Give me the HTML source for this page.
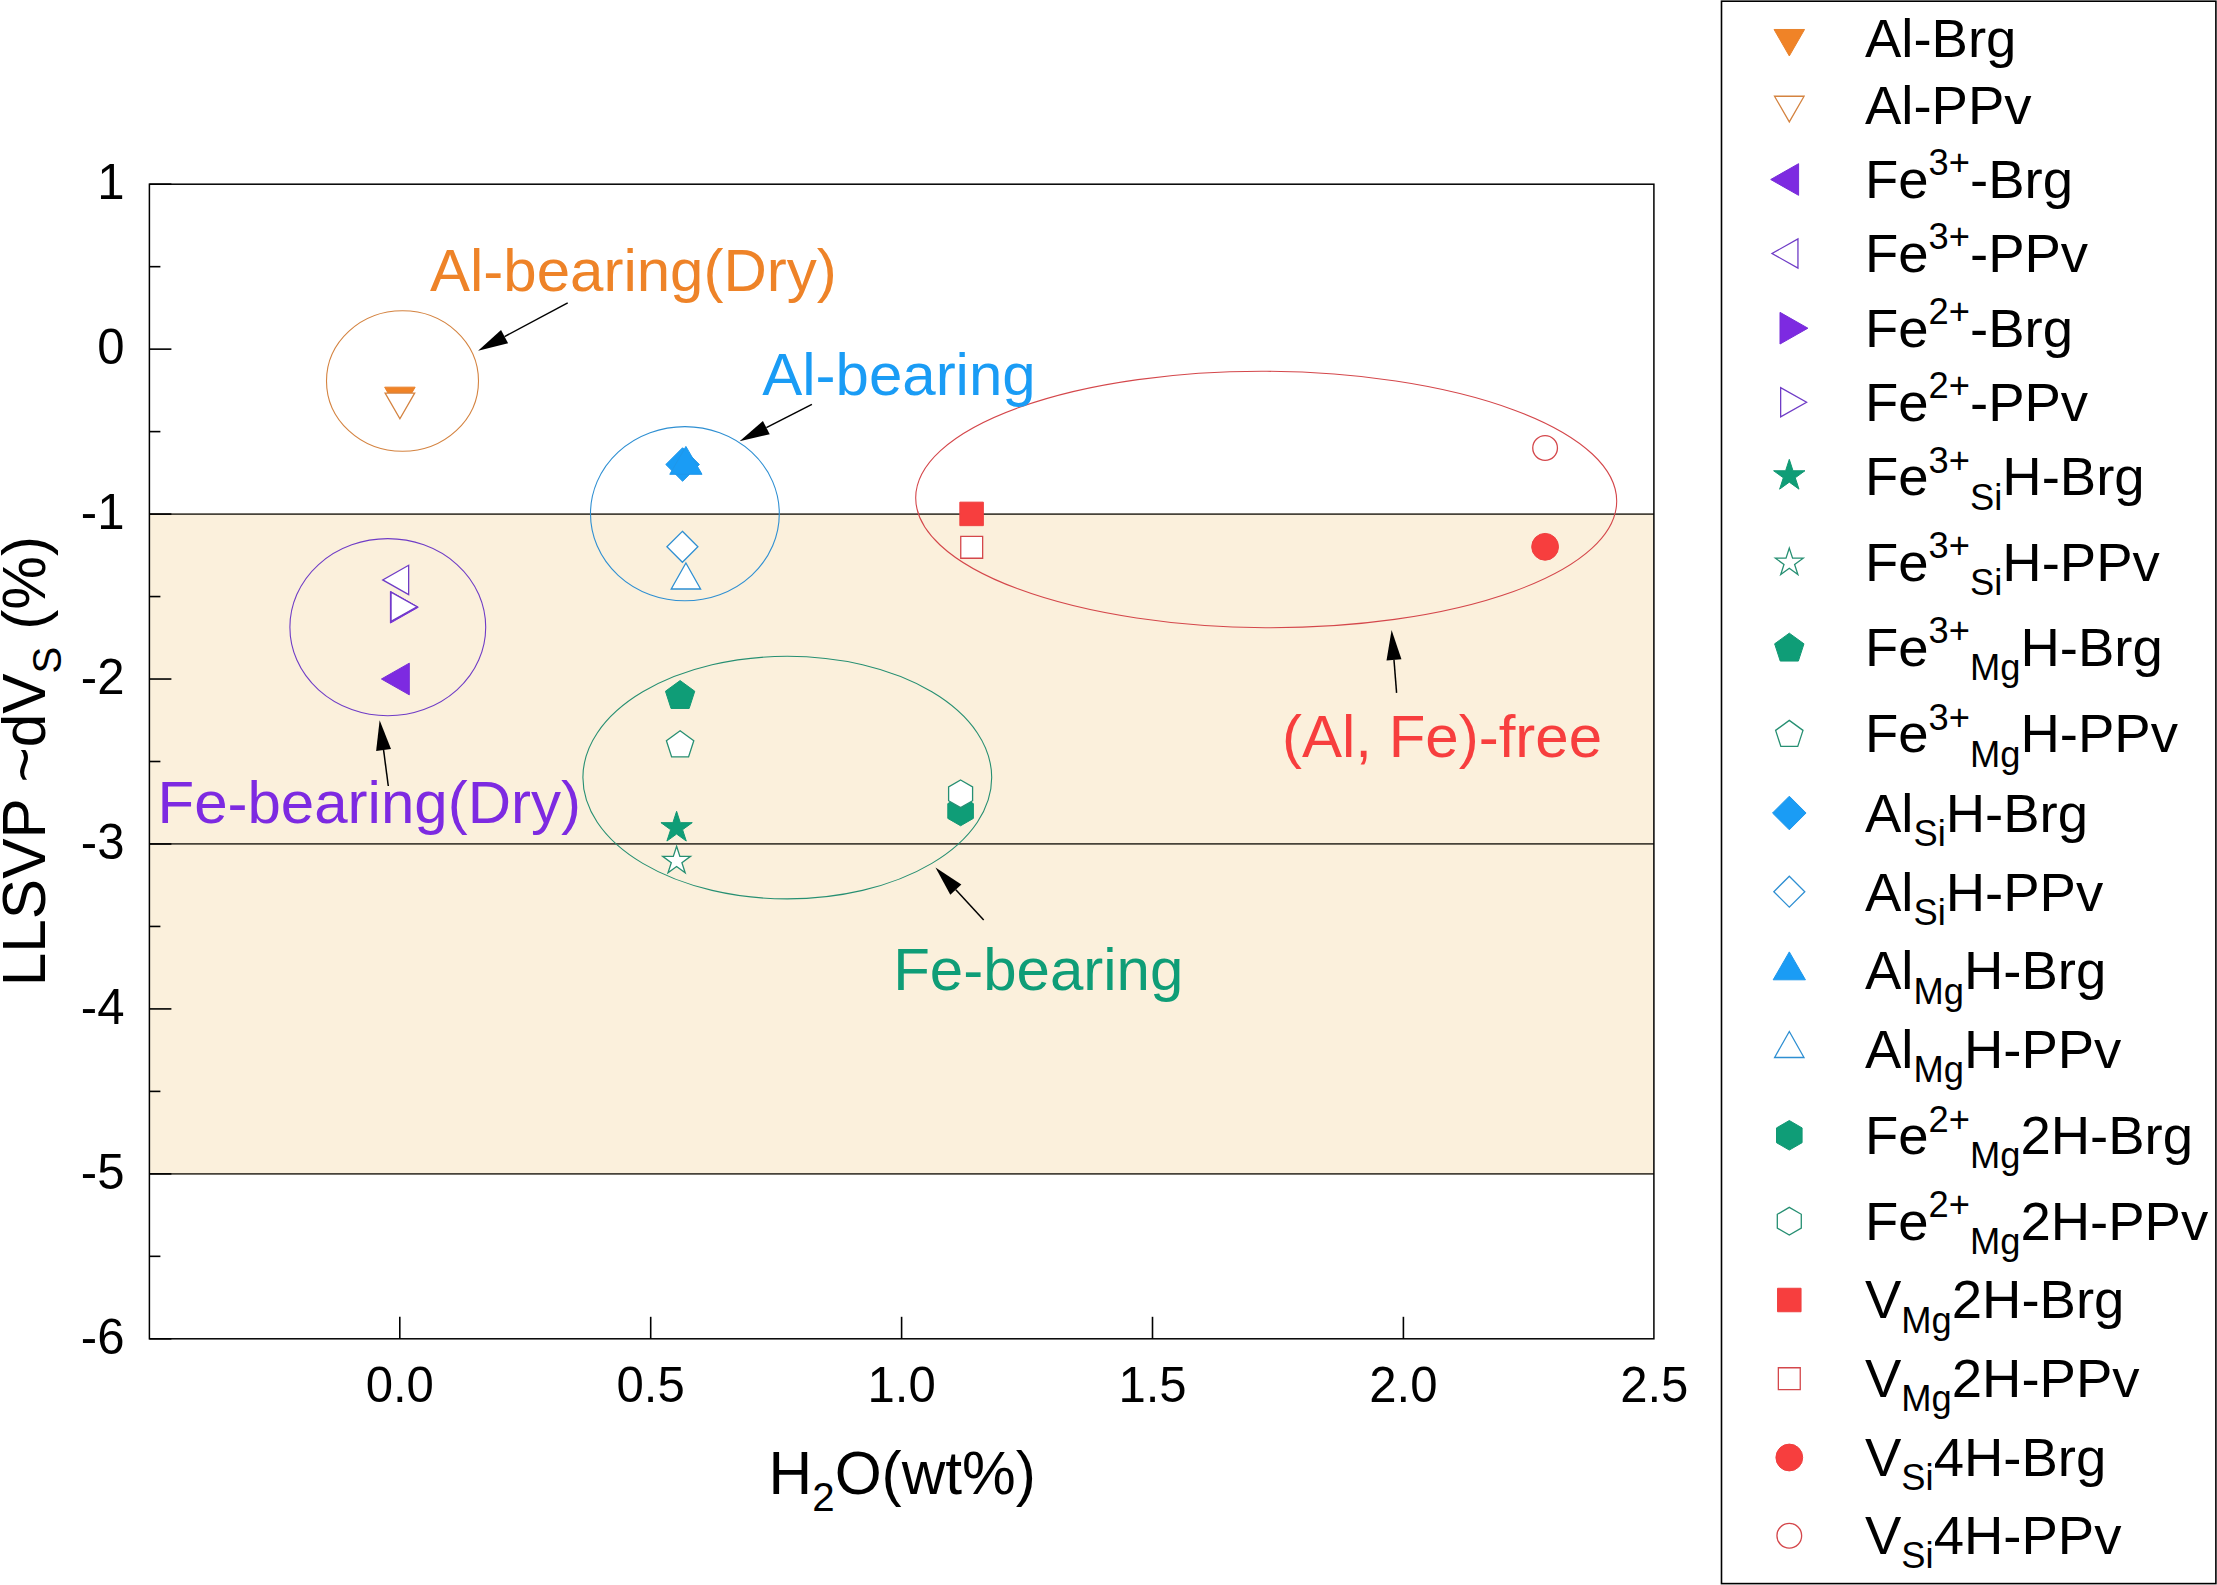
<!DOCTYPE html>
<html lang="en"><head><meta charset="utf-8"><title>LLSVP dVs vs H2O</title>
<style>html,body{margin:0;padding:0;background:#fff}svg{display:block}text{font-family:"Liberation Sans", sans-serif;fill:#000}</style></head><body>
<svg width="2217" height="1585" viewBox="0 0 2217 1585">
<rect x="0" y="0" width="2217" height="1585" fill="#fff"/>
<rect x="149.4" y="514.09" width="1504.5" height="659.77" fill="#FBF0DC"/>
<line x1="149.4" y1="514.09" x2="1653.9" y2="514.09" stroke="#47433a" stroke-width="1.8"/>
<line x1="149.4" y1="843.97" x2="1653.9" y2="843.97" stroke="#47433a" stroke-width="1.8"/>
<line x1="149.4" y1="1173.86" x2="1653.9" y2="1173.86" stroke="#47433a" stroke-width="1.8"/>
<ellipse cx="402.5" cy="381" rx="76" ry="70.3" fill="none" stroke="#D48340" stroke-width="1.1"/>
<ellipse cx="387.8" cy="627.2" rx="97.9" ry="88.6" fill="none" stroke="#6F3CC6" stroke-width="1.1"/>
<ellipse cx="684.9" cy="513.7" rx="94.4" ry="87.1" fill="none" stroke="#2E8FD2" stroke-width="1.1"/>
<ellipse cx="787.3" cy="777.6" rx="204.4" ry="121.3" fill="none" stroke="#268F72" stroke-width="1.1"/>
<ellipse cx="1266.2" cy="499.5" rx="350.5" ry="128.2" fill="none" stroke="#D4474B" stroke-width="1.1" transform="rotate(0.3 1266.2 499.5)"/>
<rect x="149.4" y="184.2" width="1504.5" height="1154.6" fill="none" stroke="#000" stroke-width="1.5"/>
<line x1="149.4" y1="184.2" x2="171.4" y2="184.2" stroke="#000" stroke-width="1.6"/>
<line x1="149.4" y1="266.67" x2="160.4" y2="266.67" stroke="#000" stroke-width="1.6"/>
<line x1="149.4" y1="349.14" x2="171.4" y2="349.14" stroke="#000" stroke-width="1.6"/>
<line x1="149.4" y1="431.61" x2="160.4" y2="431.61" stroke="#000" stroke-width="1.6"/>
<line x1="149.4" y1="514.09" x2="171.4" y2="514.09" stroke="#000" stroke-width="1.6"/>
<line x1="149.4" y1="596.56" x2="160.4" y2="596.56" stroke="#000" stroke-width="1.6"/>
<line x1="149.4" y1="679.03" x2="171.4" y2="679.03" stroke="#000" stroke-width="1.6"/>
<line x1="149.4" y1="761.5" x2="160.4" y2="761.5" stroke="#000" stroke-width="1.6"/>
<line x1="149.4" y1="843.97" x2="171.4" y2="843.97" stroke="#000" stroke-width="1.6"/>
<line x1="149.4" y1="926.44" x2="160.4" y2="926.44" stroke="#000" stroke-width="1.6"/>
<line x1="149.4" y1="1008.91" x2="171.4" y2="1008.91" stroke="#000" stroke-width="1.6"/>
<line x1="149.4" y1="1091.39" x2="160.4" y2="1091.39" stroke="#000" stroke-width="1.6"/>
<line x1="149.4" y1="1173.86" x2="171.4" y2="1173.86" stroke="#000" stroke-width="1.6"/>
<line x1="149.4" y1="1256.33" x2="160.4" y2="1256.33" stroke="#000" stroke-width="1.6"/>
<line x1="149.4" y1="1338.8" x2="171.4" y2="1338.8" stroke="#000" stroke-width="1.6"/>
<line x1="399.8" y1="1338.8" x2="399.8" y2="1316.8" stroke="#000" stroke-width="1.6"/>
<line x1="650.7" y1="1338.8" x2="650.7" y2="1316.8" stroke="#000" stroke-width="1.6"/>
<line x1="901.6" y1="1338.8" x2="901.6" y2="1316.8" stroke="#000" stroke-width="1.6"/>
<line x1="1152.5" y1="1338.8" x2="1152.5" y2="1316.8" stroke="#000" stroke-width="1.6"/>
<line x1="1403.4" y1="1338.8" x2="1403.4" y2="1316.8" stroke="#000" stroke-width="1.6"/>
<text x="124.5" y="199.3" font-size="49.1" text-anchor="end">1</text>
<text x="124.5" y="364.24" font-size="49.1" text-anchor="end">0</text>
<text x="124.5" y="529.19" font-size="49.1" text-anchor="end">-1</text>
<text x="124.5" y="694.13" font-size="49.1" text-anchor="end">-2</text>
<text x="124.5" y="859.07" font-size="49.1" text-anchor="end">-3</text>
<text x="124.5" y="1024.01" font-size="49.1" text-anchor="end">-4</text>
<text x="124.5" y="1188.96" font-size="49.1" text-anchor="end">-5</text>
<text x="124.5" y="1353.9" font-size="49.1" text-anchor="end">-6</text>
<text x="399.8" y="1401.8" font-size="49.1" text-anchor="middle">0.0</text>
<text x="650.7" y="1401.8" font-size="49.1" text-anchor="middle">0.5</text>
<text x="901.6" y="1401.8" font-size="49.1" text-anchor="middle">1.0</text>
<text x="1152.5" y="1401.8" font-size="49.1" text-anchor="middle">1.5</text>
<text x="1403.4" y="1401.8" font-size="49.1" text-anchor="middle">2.0</text>
<text x="1654.3" y="1401.8" font-size="49.1" text-anchor="middle">2.5</text>
<text x="768.6" y="1494" font-size="60.4">H<tspan font-size="40.3" dy="16.5">2</tspan><tspan dy="-16.5">O(wt%)</tspan></text>
<text transform="translate(44.8,986.3) rotate(-90)" font-size="60.4">LLSVP ~dV<tspan font-size="40.3" dy="16.4">S</tspan><tspan dy="-16.4"> (%)</tspan></text>
<polygon points="384.66,387.17 415.14,387.17 399.9,413.66" fill="#F08327" stroke="#E8822C" stroke-width="1" stroke-linejoin="miter" stroke-miterlimit="10"/>
<polygon points="385.12,393.05 414.68,393.05 399.9,418.7" fill="#FFFFFF" stroke="#D48340" stroke-width="1.3" stroke-linejoin="miter" stroke-miterlimit="10"/>
<polygon points="409.3,663.16 409.3,694.84 381.41,679" fill="#7D2AE1" stroke="#772DD8" stroke-width="1" stroke-linejoin="miter" stroke-miterlimit="10"/>
<polygon points="408.65,565.26 408.65,594.54 382.72,579.9" fill="#FFFFFF" stroke="#6F3CC6" stroke-width="1.3" stroke-linejoin="miter" stroke-miterlimit="10"/>
<polygon points="390.4,591.41 390.4,623.09 418.29,607.25" fill="#7D2AE1" stroke="#772DD8" stroke-width="1" stroke-linejoin="miter" stroke-miterlimit="10"/>
<polygon points="391.05,592.06 391.05,621.34 416.98,606.7" fill="#FFFFFF" stroke="#6F3CC6" stroke-width="1.3" stroke-linejoin="miter" stroke-miterlimit="10"/>
<polygon points="676.6,811.27 680.3,822.65 692.26,822.65 682.58,829.68 686.28,841.06 676.6,834.03 666.92,841.06 670.62,829.68 660.94,822.65 672.9,822.65" fill="#0F9D77" stroke="#129873" stroke-width="1" stroke-linejoin="miter" stroke-miterlimit="10"/>
<polygon points="676.6,846.3 679.88,856.4 690.5,856.4 681.91,862.64 685.19,872.74 676.6,866.5 668.01,872.74 671.29,862.64 662.7,856.4 673.32,856.4" fill="#FFFFFF" stroke="#268F72" stroke-width="1.3" stroke-linejoin="miter" stroke-miterlimit="10"/>
<polygon points="680.1,680.57 694.76,691.22 689.16,708.46 671.04,708.46 665.44,691.22" fill="#0F9D77" stroke="#129873" stroke-width="1" stroke-linejoin="miter" stroke-miterlimit="10"/>
<polygon points="680.1,730.8 693.79,740.75 688.56,756.84 671.64,756.84 666.41,740.75" fill="#FFFFFF" stroke="#268F72" stroke-width="1.3" stroke-linejoin="miter" stroke-miterlimit="10"/>
<polygon points="682.6,447.71 699.39,464.5 682.6,481.29 665.81,464.5" fill="#1A9CF5" stroke="#1F97EA" stroke-width="1" stroke-linejoin="miter" stroke-miterlimit="10"/>
<polygon points="682.4,531.32 697.88,546.8 682.4,562.28 666.92,546.8" fill="#FFFFFF" stroke="#2E8FD2" stroke-width="1.3" stroke-linejoin="miter" stroke-miterlimit="10"/>
<polygon points="669.77,474.3 702.03,474.3 685.9,446.4" fill="#1A9CF5" stroke="#1F97EA" stroke-width="1" stroke-linejoin="miter" stroke-miterlimit="10"/>
<polygon points="671.21,588.98 700.59,588.98 685.9,562.96" fill="#FFFFFF" stroke="#2E8FD2" stroke-width="1.3" stroke-linejoin="miter" stroke-miterlimit="10"/>
<polygon points="960.6,796.23 973.39,803.61 973.39,818.39 960.6,825.77 947.81,818.39 947.81,803.61" fill="#0F9D77" stroke="#129873" stroke-width="1" stroke-linejoin="miter" stroke-miterlimit="10"/>
<polygon points="960.6,779.95 972.59,786.88 972.59,800.72 960.6,807.65 948.61,800.72 948.61,786.88" fill="#FFFFFF" stroke="#268F72" stroke-width="1.3" stroke-linejoin="miter" stroke-miterlimit="10"/>
<polygon points="959.85,502.15 983.35,502.15 983.35,525.65 959.85,525.65" fill="#F73E3E" stroke="#EE4040" stroke-width="1" stroke-linejoin="miter" stroke-miterlimit="10"/>
<polygon points="960.75,536.35 982.65,536.35 982.65,558.25 960.75,558.25" fill="#FFFFFF" stroke="#D4474B" stroke-width="1.3" stroke-linejoin="miter" stroke-miterlimit="10"/>
<circle cx="1545.1" cy="546.8" r="13.4" fill="#F73E3E" stroke="#EE4040" stroke-width="1"/>
<circle cx="1545.1" cy="448" r="12.35" fill="#FFFFFF" stroke="#D4474B" stroke-width="1.3"/>
<text x="430" y="291" font-size="60" style="fill:#EE8328">Al-bearing(Dry)</text>
<text x="762.2" y="395.2" font-size="60" style="fill:#1A9CF5">Al-bearing</text>
<text x="1282" y="756.8" font-size="60" style="fill:#F73E3E">(Al, Fe)-free</text>
<text x="157.5" y="822.8" font-size="60" style="fill:#7D2AE1">Fe-bearing(Dry)</text>
<text x="893.2" y="990.2" font-size="60" style="fill:#0F9D77">Fe-bearing</text>
<line x1="567.7" y1="302.9" x2="504.57" y2="336.58" stroke="#000" stroke-width="1.5"/>
<polygon points="478.1,350.7 501.04,329.96 508.1,343.2" fill="#000"/>
<line x1="811.9" y1="404.4" x2="766.34" y2="427.59" stroke="#000" stroke-width="1.5"/>
<polygon points="739.6,441.2 762.93,420.91 769.74,434.28" fill="#000"/>
<line x1="388.3" y1="786" x2="383.56" y2="749.94" stroke="#000" stroke-width="1.5"/>
<polygon points="379.65,720.2 391,748.97 376.12,750.92" fill="#000"/>
<line x1="983.7" y1="919.9" x2="955.83" y2="889.66" stroke="#000" stroke-width="1.5"/>
<polygon points="935.5,867.6 961.35,884.58 950.32,894.74" fill="#000"/>
<line x1="1396.6" y1="692.9" x2="1393.98" y2="659.91" stroke="#000" stroke-width="1.5"/>
<polygon points="1391.6,630 1401.45,659.31 1386.5,660.5" fill="#000"/>
<rect x="1721.5" y="1.2" width="494.4" height="1582.4" fill="#fff" stroke="#000" stroke-width="1.6"/>
<polygon points="1774.06,29.47 1804.54,29.47 1789.3,55.96" fill="#F08327" stroke="#E8822C" stroke-width="1" stroke-linejoin="miter" stroke-miterlimit="10"/>
<text x="1865" y="57.2" font-size="54.5"><tspan>Al-Brg</tspan></text>
<polygon points="1774.52,96.25 1804.08,96.25 1789.3,121.9" fill="#FFFFFF" stroke="#D48340" stroke-width="1.3" stroke-linejoin="miter" stroke-miterlimit="10"/>
<text x="1865" y="123.7" font-size="54.5"><tspan>Al-PPv</tspan></text>
<polygon points="1798.6,163.66 1798.6,195.34 1770.71,179.5" fill="#7D2AE1" stroke="#772DD8" stroke-width="1" stroke-linejoin="miter" stroke-miterlimit="10"/>
<text x="1865" y="197.9" font-size="54.5"><tspan>Fe</tspan><tspan font-size="36.3" dy="-22.6">3+</tspan><tspan dy="22.6">-Brg</tspan></text>
<polygon points="1797.95,238.86 1797.95,268.14 1772.02,253.5" fill="#FFFFFF" stroke="#6F3CC6" stroke-width="1.3" stroke-linejoin="miter" stroke-miterlimit="10"/>
<text x="1865" y="271.9" font-size="54.5"><tspan>Fe</tspan><tspan font-size="36.3" dy="-22.6">3+</tspan><tspan dy="22.6">-PPv</tspan></text>
<polygon points="1780,312.36 1780,344.04 1807.89,328.2" fill="#7D2AE1" stroke="#772DD8" stroke-width="1" stroke-linejoin="miter" stroke-miterlimit="10"/>
<text x="1865" y="346.6" font-size="54.5"><tspan>Fe</tspan><tspan font-size="36.3" dy="-22.6">2+</tspan><tspan dy="22.6">-Brg</tspan></text>
<polygon points="1780.65,387.66 1780.65,416.94 1806.58,402.3" fill="#FFFFFF" stroke="#6F3CC6" stroke-width="1.3" stroke-linejoin="miter" stroke-miterlimit="10"/>
<text x="1865" y="420.7" font-size="54.5"><tspan>Fe</tspan><tspan font-size="36.3" dy="-22.6">2+</tspan><tspan dy="22.6">-PPv</tspan></text>
<polygon points="1789.3,459.37 1793,470.75 1804.96,470.75 1795.28,477.78 1798.98,489.16 1789.3,482.13 1779.62,489.16 1783.32,477.78 1773.64,470.75 1785.6,470.75" fill="#0F9D77" stroke="#129873" stroke-width="1" stroke-linejoin="miter" stroke-miterlimit="10"/>
<text x="1865" y="495.4" font-size="54.5"><tspan>Fe</tspan><tspan font-size="36.3" dy="-22.6">3+</tspan><tspan font-size="36.3" dy="36.7">Si</tspan><tspan dy="-14.1">H-Brg</tspan></text>
<polygon points="1789.3,548.1 1792.58,558.2 1803.2,558.2 1794.61,564.44 1797.89,574.54 1789.3,568.3 1780.71,574.54 1783.99,564.44 1775.4,558.2 1786.02,558.2" fill="#FFFFFF" stroke="#268F72" stroke-width="1.3" stroke-linejoin="miter" stroke-miterlimit="10"/>
<text x="1865" y="580.6" font-size="54.5"><tspan>Fe</tspan><tspan font-size="36.3" dy="-22.6">3+</tspan><tspan font-size="36.3" dy="36.7">Si</tspan><tspan dy="-14.1">H-PPv</tspan></text>
<polygon points="1789.3,633.17 1803.96,643.82 1798.36,661.06 1780.24,661.06 1774.64,643.82" fill="#0F9D77" stroke="#129873" stroke-width="1" stroke-linejoin="miter" stroke-miterlimit="10"/>
<text x="1865" y="665.8" font-size="54.5"><tspan>Fe</tspan><tspan font-size="36.3" dy="-22.6">3+</tspan><tspan font-size="36.3" dy="36.7">Mg</tspan><tspan dy="-14.1">H-Brg</tspan></text>
<polygon points="1789.3,720.4 1802.99,730.35 1797.76,746.44 1780.84,746.44 1775.61,730.35" fill="#FFFFFF" stroke="#268F72" stroke-width="1.3" stroke-linejoin="miter" stroke-miterlimit="10"/>
<text x="1865" y="752.4" font-size="54.5"><tspan>Fe</tspan><tspan font-size="36.3" dy="-22.6">3+</tspan><tspan font-size="36.3" dy="36.7">Mg</tspan><tspan dy="-14.1">H-PPv</tspan></text>
<polygon points="1789.3,796.21 1806.09,813 1789.3,829.79 1772.51,813" fill="#1A9CF5" stroke="#1F97EA" stroke-width="1" stroke-linejoin="miter" stroke-miterlimit="10"/>
<text x="1865" y="831.9" font-size="54.5"><tspan>Al</tspan><tspan font-size="36.3" dy="14.1">Si</tspan><tspan dy="-14.1">H-Brg</tspan></text>
<polygon points="1789.3,876.22 1804.78,891.7 1789.3,907.18 1773.82,891.7" fill="#FFFFFF" stroke="#2E8FD2" stroke-width="1.3" stroke-linejoin="miter" stroke-miterlimit="10"/>
<text x="1865" y="910.6" font-size="54.5"><tspan>Al</tspan><tspan font-size="36.3" dy="14.1">Si</tspan><tspan dy="-14.1">H-PPv</tspan></text>
<polygon points="1773.17,979.8 1805.43,979.8 1789.3,951.9" fill="#1A9CF5" stroke="#1F97EA" stroke-width="1" stroke-linejoin="miter" stroke-miterlimit="10"/>
<text x="1865" y="989.4" font-size="54.5"><tspan>Al</tspan><tspan font-size="36.3" dy="14.1">Mg</tspan><tspan dy="-14.1">H-Brg</tspan></text>
<polygon points="1774.61,1057.48 1803.99,1057.48 1789.3,1031.46" fill="#FFFFFF" stroke="#2E8FD2" stroke-width="1.3" stroke-linejoin="miter" stroke-miterlimit="10"/>
<text x="1865" y="1067.7" font-size="54.5"><tspan>Al</tspan><tspan font-size="36.3" dy="14.1">Mg</tspan><tspan dy="-14.1">H-PPv</tspan></text>
<polygon points="1789.3,1120.53 1802.09,1127.91 1802.09,1142.69 1789.3,1150.07 1776.51,1142.69 1776.51,1127.91" fill="#0F9D77" stroke="#129873" stroke-width="1" stroke-linejoin="miter" stroke-miterlimit="10"/>
<text x="1865" y="1154.1" font-size="54.5"><tspan>Fe</tspan><tspan font-size="36.3" dy="-22.6">2+</tspan><tspan font-size="36.3" dy="36.7">Mg</tspan><tspan dy="-14.1">2H-Brg</tspan></text>
<polygon points="1789.3,1207.35 1801.29,1214.28 1801.29,1228.12 1789.3,1235.05 1777.31,1228.12 1777.31,1214.28" fill="#FFFFFF" stroke="#268F72" stroke-width="1.3" stroke-linejoin="miter" stroke-miterlimit="10"/>
<text x="1865" y="1240" font-size="54.5"><tspan>Fe</tspan><tspan font-size="36.3" dy="-22.6">2+</tspan><tspan font-size="36.3" dy="36.7">Mg</tspan><tspan dy="-14.1">2H-PPv</tspan></text>
<polygon points="1777.55,1288.25 1801.05,1288.25 1801.05,1311.75 1777.55,1311.75" fill="#F73E3E" stroke="#EE4040" stroke-width="1" stroke-linejoin="miter" stroke-miterlimit="10"/>
<text x="1865" y="1318.4" font-size="54.5"><tspan>V</tspan><tspan font-size="36.3" dy="14.1">Mg</tspan><tspan dy="-14.1">2H-Brg</tspan></text>
<polygon points="1778.35,1367.75 1800.25,1367.75 1800.25,1389.65 1778.35,1389.65" fill="#FFFFFF" stroke="#D4474B" stroke-width="1.3" stroke-linejoin="miter" stroke-miterlimit="10"/>
<text x="1865" y="1397.1" font-size="54.5"><tspan>V</tspan><tspan font-size="36.3" dy="14.1">Mg</tspan><tspan dy="-14.1">2H-PPv</tspan></text>
<circle cx="1789.3" cy="1457.5" r="13.4" fill="#F73E3E" stroke="#EE4040" stroke-width="1"/>
<text x="1865" y="1475.7" font-size="54.5"><tspan>V</tspan><tspan font-size="36.3" dy="14.1">Si</tspan><tspan dy="-14.1">4H-Brg</tspan></text>
<circle cx="1789.3" cy="1535.7" r="12.35" fill="#FFFFFF" stroke="#D4474B" stroke-width="1.3"/>
<text x="1865" y="1553.9" font-size="54.5"><tspan>V</tspan><tspan font-size="36.3" dy="14.1">Si</tspan><tspan dy="-14.1">4H-PPv</tspan></text>
</svg></body></html>
